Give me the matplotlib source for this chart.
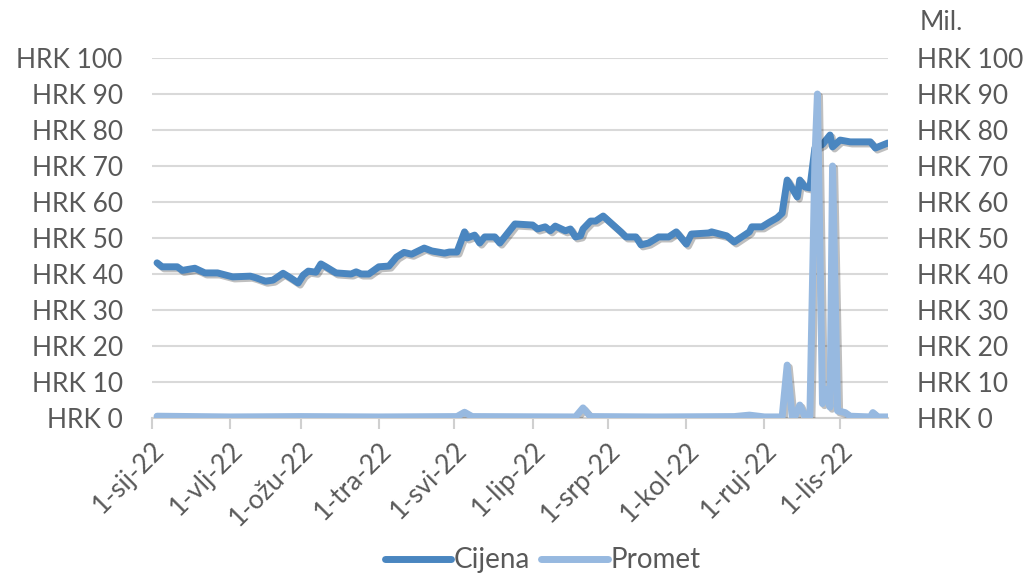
import matplotlib
matplotlib.use("Agg")
import matplotlib.pyplot as plt
import matplotlib.dates as mdates
import matplotlib.patheffects as pe
import pandas as pd

# ---- data ----
price_dates = ["2022-01-03", "2022-01-05", "2022-01-11", "2022-01-13", "2022-01-18", "2022-01-22",
               "2022-01-27", "2022-02-02", "2022-02-09", "2022-02-11", "2022-02-15", "2022-02-18",
               "2022-02-22", "2022-02-25", "2022-02-28", "2022-03-02", "2022-03-04", "2022-03-07",
               "2022-03-09", "2022-03-11", "2022-03-15", "2022-03-21", "2022-03-23", "2022-03-25",
               "2022-03-28", "2022-04-01", "2022-04-05", "2022-04-08", "2022-04-11", "2022-04-14",
               "2022-04-19", "2022-04-22", "2022-04-27", "2022-04-29", "2022-05-02", "2022-05-05",
               "2022-05-06", "2022-05-09", "2022-05-11", "2022-05-13", "2022-05-17", "2022-05-19",
               "2022-05-25", "2022-06-01", "2022-06-03", "2022-06-06", "2022-06-08", "2022-06-10",
               "2022-06-14", "2022-06-16", "2022-06-18", "2022-06-20", "2022-06-21", "2022-06-24",
               "2022-06-26", "2022-06-29", "2022-07-02", "2022-07-06", "2022-07-08", "2022-07-12",
               "2022-07-14", "2022-07-17", "2022-07-21", "2022-07-25", "2022-07-28", "2022-08-01",
               "2022-08-03", "2022-08-10", "2022-08-11", "2022-08-17", "2022-08-20", "2022-08-26",
               "2022-08-27", "2022-08-31", "2022-09-03", "2022-09-06", "2022-09-08", "2022-09-10",
               "2022-09-14", "2022-09-15", "2022-09-17", "2022-09-19", "2022-09-21", "2022-09-24",
               "2022-09-27", "2022-09-28", "2022-10-01", "2022-10-05", "2022-10-13", "2022-10-15",
               "2022-10-20"]
price_values = [43.1, 42.0, 42.0, 41.0, 41.6, 40.3,
                40.3, 39.2, 39.4, 39.0, 38.0, 38.3,
                40.2, 38.9, 37.5, 39.7, 40.8, 40.5,
                42.8, 42.0, 40.3, 40.0, 40.6, 40.0,
                40.0, 42.0, 42.2, 44.7, 46.0, 45.5,
                47.2, 46.4, 45.8, 46.1, 46.1, 51.7,
                50.0, 50.8, 48.6, 50.3, 50.3, 48.6,
                53.9, 53.6, 52.5, 53.1, 52.0, 53.3,
                52.0, 52.5, 50.3, 50.6, 52.5, 54.7,
                54.7, 56.1, 54.2, 51.7, 50.3, 50.3,
                48.1, 48.6, 50.3, 50.3, 51.7, 48.3,
                51.1, 51.4, 51.7, 50.6, 48.9, 51.7,
                53.1, 53.1, 54.4, 55.6, 56.9, 66.1,
                61.4, 66.1, 64.2, 63.9, 75.0, 76.0,
                78.6, 75.3, 77.2, 76.7, 76.7, 75.0,
                76.4]

volume_dates = ["2022-01-03", "2022-02-01", "2022-03-01", "2022-04-01", "2022-05-02", "2022-05-05",
                "2022-05-08", "2022-06-18", "2022-06-21", "2022-06-24", "2022-07-20", "2022-08-20",
                "2022-08-26", "2022-09-01", "2022-09-08", "2022-09-10", "2022-09-12", "2022-09-13",
                "2022-09-15", "2022-09-17", "2022-09-19", "2022-09-21", "2022-09-22", "2022-09-24",
                "2022-09-26", "2022-09-27", "2022-09-28", "2022-09-30", "2022-10-03", "2022-10-05",
                "2022-10-13", "2022-10-14", "2022-10-16", "2022-10-20"]
volume_values = [0.5, 0.3, 0.4, 0.3, 0.4, 1.6,
                 0.4, 0.3, 2.8, 0.4, 0.3, 0.4,
                 0.8, 0.3, 0.3, 14.7, 0.3, 0.3,
                 3.6, 0.5, 0.5, 72.0, 90.0, 4.0,
                 8.0, 3.0, 70.0, 2.0, 1.5, 0.5,
                 0.3, 1.5, 0.3, 0.3]

y_ticks = [0, 10, 20, 30, 40, 50, 60, 70, 80, 90, 100]
month_labels = ["1-sij-22", "1-vlj-22", "1-ožu-22", "1-tra-22", "1-svi-22",
                "1-lip-22", "1-srp-22", "1-kol-22", "1-ruj-22", "1-lis-22"]
series_names = ["Cijena", "Promet"]

# ---- style ----
plt.rcParams['font.family'] = ['Lato', 'DejaVu Sans']
TXT = "#595959"
C_PRICE = "#4a86c0"
C_VOL = "#97b9e0"
FS = 19

fig = plt.figure(figsize=(10.30, 5.81), dpi=100)
ax = fig.add_axes([152/1030, 1 - 418/581, (888-152)/1030, (418-58)/581])
ax2 = ax.twinx()

pdates = pd.to_datetime(price_dates)
vdates = pd.to_datetime(volume_dates)
shadow = [pe.SimpleLineShadow(offset=(1.5, -1.5), shadow_color="black", alpha=0.25), pe.Normal()]

ax.plot(pdates, price_values, color=C_PRICE, lw=5, solid_joinstyle="round",
        solid_capstyle="round", path_effects=shadow, zorder=3, label=series_names[0])
ax2.plot(vdates, volume_values, color=C_VOL, lw=5, solid_joinstyle="round",
         solid_capstyle="round", path_effects=shadow, zorder=3, label=series_names[1])

x0 = pd.Timestamp("2022-01-01")
x1 = pd.Timestamp("2022-10-20")
for a in (ax, ax2):
    a.set_xlim(x0, x1)
    a.set_ylim(0, 100)
    a.set_yticks(y_ticks)
    a.set_yticklabels([f"HRK {v}" for v in y_ticks])
    for s in a.spines.values():
        s.set_visible(False)
    a.tick_params(axis="y", length=0, labelsize=FS, labelcolor=TXT)

ax.tick_params(axis="y", pad=21)
ax2.tick_params(axis="y", pad=21)

ax.grid(axis="y", color="#d9d9d9", lw=1.5)
ax.set_axisbelow(True)
ax.spines["bottom"].set_visible(True)
ax.spines["bottom"].set_color("#d0d0d0")
ax.spines["bottom"].set_linewidth(1.5)

month_ticks = pd.date_range("2022-01-01", periods=len(month_labels), freq="MS")
ax.set_xticks(month_ticks)
ax.set_xticklabels(month_labels, rotation=45, ha="right", va="top", rotation_mode="anchor")
ax.tick_params(axis="x", length=8, width=1.5, color="#d0d0d0", labelsize=FS, labelcolor=TXT, pad=6)
ax2.tick_params(axis="x", length=0, labelbottom=False)

fig.text(920/1030, 1 - 22/581, "Mil.", fontsize=FS, color=TXT, ha="left", va="center")

h1, l1 = ax.get_legend_handles_labels()
h2, l2 = ax2.get_legend_handles_labels()
leg = fig.legend(h1 + h2, l1 + l2, loc="lower center", bbox_to_anchor=(0.527, -0.03), ncol=2,
                 frameon=False, fontsize=20, handlelength=2.4, handletextpad=0.1, columnspacing=0.4)
for t in leg.get_texts():
    t.set_color(TXT)
for ln in leg.get_lines():
    ln.set_path_effects([])

fig.savefig("out.png", dpi=100)
